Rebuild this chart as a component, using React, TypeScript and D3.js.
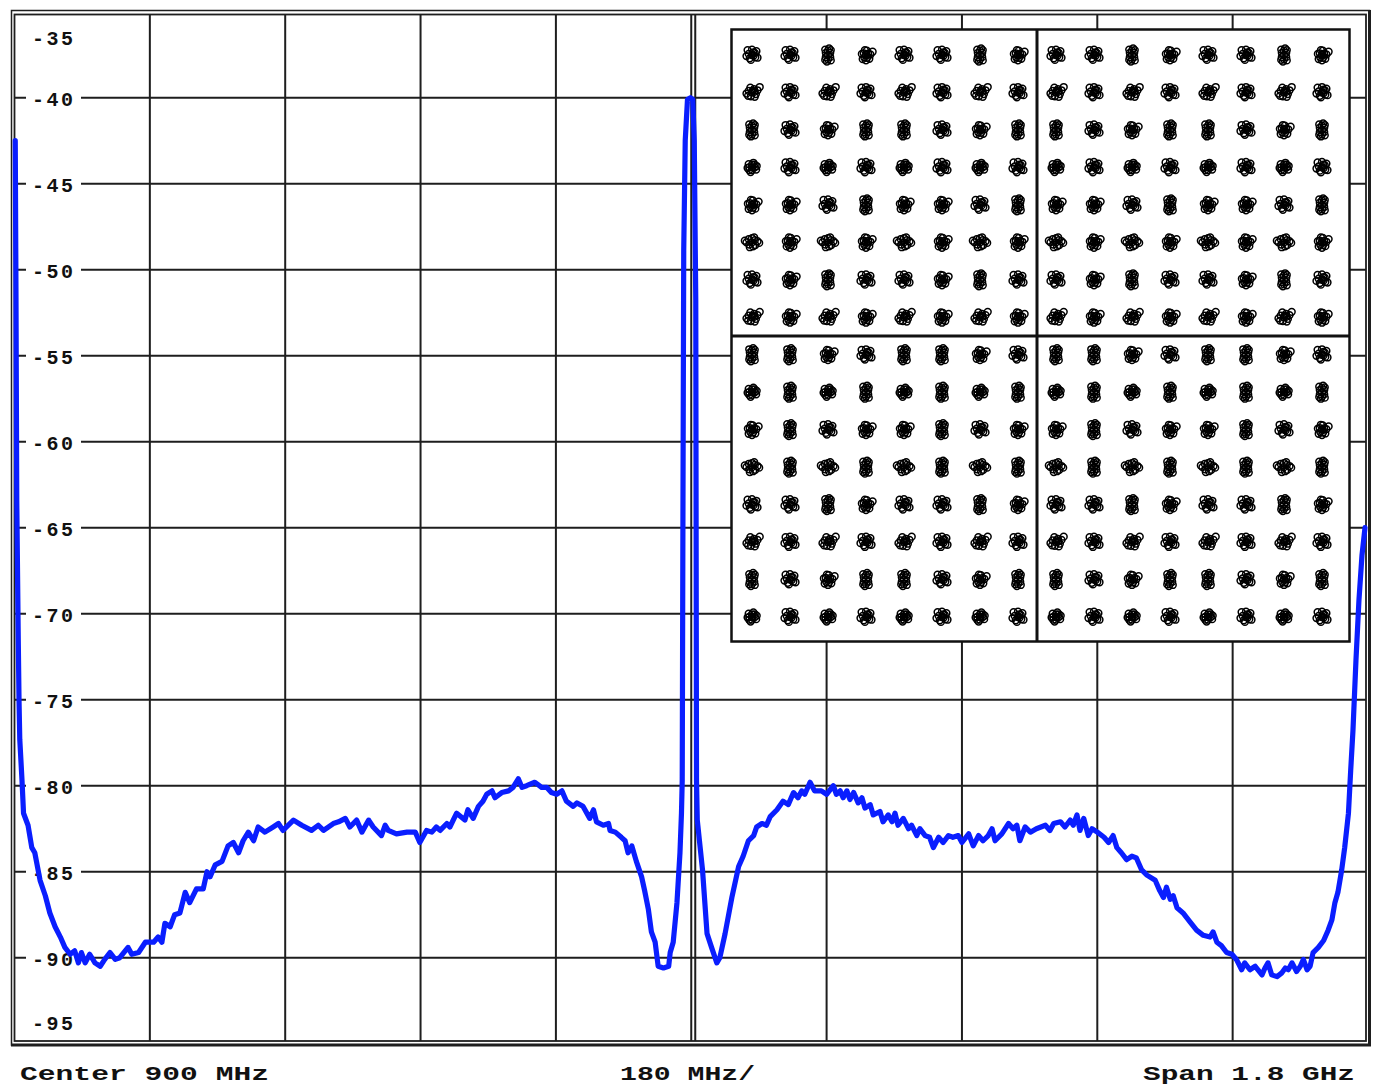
import * as d3 from 'd3'
import { FC } from 'react'

const WIDTH = 1373
const HEIGHT = 1088
const FONT = '"Liberation Mono", "Courier New", monospace'
const GRID = '#1e1e1e'
const TRACE = '#0a1eff'

// Spectrum trace (MHz, dBm)
const FREQ_MHZ = [
  1, 2, 3, 5, 6, 7, 10, 12, 18, 23, 27, 34, 41, 47, 54, 61, 67, 74, 80, 85, 89, 94, 100, 107, 114, 120,
  127, 134, 140, 151, 156, 165, 174, 185, 191, 196, 200, 207, 213, 220, 227, 233, 242, 251, 256, 260,
  267, 276, 284, 291, 298, 304, 311, 318, 324, 333, 344, 351, 357, 371, 382, 395, 404, 411, 424, 431,
  440, 446, 455, 462, 471, 477, 488, 493, 497, 508, 522, 533, 539, 548, 555, 561, 566, 575, 579, 588,
  599, 603, 610, 617, 623, 628, 635, 639, 648, 657, 663, 670, 675, 681, 692, 701, 708, 714, 721, 728,
  734, 743, 748, 756, 765, 770, 774, 783, 790, 792, 799, 807, 812, 816, 821, 827, 834, 838, 843, 847,
  852, 856, 863, 870, 872, 876, 881, 885, 887, 888, 889, 890, 892, 895, 899, 902, 904, 906, 907, 908,
  915, 921, 927, 934, 938, 945, 954, 963, 969, 976, 983, 987, 994, 1000, 1005, 1014, 1022, 1029, 1036,
  1042, 1047, 1051, 1058, 1064, 1073, 1080, 1089, 1093, 1098, 1102, 1107, 1111, 1116, 1122, 1127, 1131,
  1138, 1142, 1151, 1155, 1162, 1167, 1171, 1175, 1182, 1189, 1193, 1200, 1204, 1211, 1217, 1222, 1229,
  1235, 1242, 1248, 1255, 1260, 1269, 1275, 1282, 1288, 1295, 1300, 1304, 1313, 1322, 1328, 1333, 1337,
  1344, 1351, 1359, 1371, 1377, 1382, 1391, 1397, 1404, 1408, 1413, 1417, 1422, 1428, 1433, 1440, 1449,
  1455, 1461, 1466, 1472, 1479, 1486, 1492, 1499, 1506, 1517, 1523, 1528, 1532, 1537, 1541, 1546, 1554,
  1563, 1572, 1581, 1590, 1594, 1599, 1605, 1612, 1619, 1625, 1632, 1636, 1643, 1650, 1659, 1663, 1667,
  1672, 1679, 1685, 1690, 1694, 1699, 1705, 1710, 1714, 1719, 1723, 1727, 1734, 1741, 1747, 1752, 1756,
  1760, 1765, 1769, 1774, 1777, 1780, 1784, 1788, 1792, 1796,
]
const LEVEL_DBM = [
  -42.5, -51.8, -63.4, -71.5, -75.0, -77.3, -79.7, -81.6, -82.3, -83.6, -83.9, -85.5, -86.4, -87.4, -88.2,
  -88.8, -89.4, -89.8, -89.6, -90.3, -89.7, -90.3, -89.8, -90.3, -90.5, -90.1, -89.7, -90.1, -90.0, -89.4,
  -89.8, -89.7, -89.1, -89.1, -88.8, -89.1, -88.0, -88.2, -87.5, -87.4, -86.2, -86.8, -86.0, -86.0, -85.0,
  -85.3, -84.6, -84.4, -83.5, -83.3, -83.9, -83.2, -82.7, -83.2, -82.4, -82.7, -82.4, -82.2, -82.6, -82.0,
  -82.3, -82.6, -82.3, -82.6, -82.2, -82.1, -81.9, -82.4, -82.0, -82.7, -82.0, -82.4, -82.9, -82.3, -82.6,
  -82.8, -82.7, -82.7, -83.3, -82.6, -82.7, -82.4, -82.6, -82.2, -82.4, -81.6, -82.0, -81.4, -81.9, -81.2,
  -80.9, -80.5, -80.3, -80.7, -80.4, -80.3, -80.1, -79.6, -80.1, -80.0, -79.8, -80.1, -80.1, -80.4, -80.5,
  -80.3, -80.9, -81.2, -81.0, -81.2, -81.9, -81.4, -82.1, -82.3, -82.2, -82.6, -82.7, -83.0, -83.2, -83.9,
  -83.5, -84.4, -85.3, -86.1, -87.2, -88.5, -89.1, -90.5, -90.6, -90.5, -89.7, -89.1, -86.8, -83.9, -81.6,
  -79.7, -63.4, -48.9, -42.5, -40.1, -40.0, -40.1, -42.5, -51.8, -79.7, -82.0, -84.9, -88.6, -89.4, -90.3,
  -90.0, -88.6, -86.5, -84.7, -84.1, -83.2, -82.9, -82.4, -82.2, -82.3, -81.8, -81.4, -80.9, -81.1, -80.4,
  -80.7, -80.3, -80.5, -79.8, -80.3, -80.3, -80.5, -80.0, -80.5, -80.3, -80.7, -80.3, -80.8, -80.4, -81.0,
  -80.7, -81.3, -81.1, -81.7, -81.5, -82.1, -81.7, -82.1, -81.6, -82.3, -81.9, -82.5, -82.3, -82.9, -82.5,
  -82.9, -83.0, -83.6, -83.0, -83.3, -82.9, -83.0, -82.9, -83.3, -82.8, -83.5, -82.9, -83.2, -82.9, -82.5,
  -83.2, -82.8, -82.2, -82.5, -82.3, -83.2, -82.4, -82.7, -82.5, -82.3, -82.6, -82.2, -82.1, -82.4, -82.0,
  -82.3, -81.7, -82.6, -81.9, -82.9, -82.5, -82.7, -83.0, -83.3, -82.9, -83.6, -83.9, -84.3, -84.1, -84.2,
  -84.9, -85.2, -85.5, -86.1, -86.5, -85.9, -86.6, -86.4, -87.1, -87.4, -87.9, -88.4, -88.7, -88.8, -88.5,
  -89.1, -89.3, -89.7, -89.8, -90.1, -90.7, -90.3, -90.7, -90.5, -91.0, -90.6, -90.3, -91.0, -91.1, -90.9,
  -90.6, -90.7, -90.3, -90.8, -90.5, -90.1, -90.7, -90.5, -89.7, -89.4, -89.0, -88.4, -87.8, -86.8, -86.2,
  -84.9, -83.6, -81.6, -79.1, -76.8, -72.7, -69.2, -66.6, -65.0,
]

const Y_TICKS = [-35, -40, -45, -50, -55, -60, -65, -70, -75, -80, -85, -90, -95]
const X_DIVS = [0, 180, 360, 540, 720, 900, 1080, 1260, 1440, 1620, 1800]

// 256-QAM constellation levels (I and Q)
const QAM_LEVELS = [-15, -13, -11, -9, -7, -5, -3, -1, 1, 3, 5, 7, 9, 11, 13, 15]
// received-symbol scatter around each ideal point, in symbol units
const SCATTER = [
  [[0, 0], [0.1, 0], [-0.1, 0], [0, 0.1], [0, -0.1], [0.1, 0.1], [-0.1, -0.1], [0.15, -0.08], [-0.12, 0.12], [0.05, 0.17], [-0.05, -0.17], [0.17, 0.05], [-0.16, -0.02]],
  [[0, 0], [0.08, 0.05], [-0.08, 0.06], [0.04, -0.1], [-0.06, -0.09], [0.16, 0.02], [-0.15, 0.04], [0.24, 0.12], [0.03, 0.16], [-0.04, 0.18], [0.12, -0.14], [-0.12, -0.15], [0.0, -0.2]],
  [[0, 0], [0.1, 0.08], [-0.1, -0.08], [-0.2, 0], [0.2, 0.04], [0, 0.15], [0.04, -0.15], [-0.12, 0.12], [0.12, -0.1], [-0.08, -0.18], [0.08, 0.18], [-0.26, 0.06], [0.26, -0.02]],
  [[0, 0], [-0.16, 0.18], [0.05, 0.1], [0.12, -0.08], [-0.08, -0.12], [0.16, 0.14], [-0.04, -0.18], [0.1, 0.08], [-0.12, 0.04], [0.0, 0.2], [-0.2, -0.04], [0.2, -0.1], [0.06, -0.02]],
  [[0, 0], [0.07, 0.12], [-0.12, 0.06], [0.14, -0.06], [-0.04, -0.14], [0.2, 0.08], [-0.2, -0.04], [0.08, 0.02], [-0.06, 0.18], [0.1, -0.16], [-0.14, -0.12], [0.02, 0.06], [0.28, 0.2]],
  [[0, 0], [0, 0.16], [0, -0.16], [0.08, 0.08], [-0.08, -0.08], [0.08, -0.08], [-0.08, 0.08], [0.04, 0.24], [-0.04, -0.24], [0.1, 0.18], [-0.1, -0.18], [0.1, -0.2], [-0.1, 0.2]],
]
const SCATTER_GAIN = 1.45

const App: FC = () => {
  const x = d3.scaleLinear().domain([0, 1800]).range([14.5, 1368])
  const y = d3.scaleLinear().domain([-35, -95]).range([11.7, 1043.7])

  const line = d3
    .line<number>()
    .x((_, i) => x(FREQ_MHZ[i]))
    .y((d) => y(d))

  // inset
  const box = { x0: 731.5, y0: 29.5, x1: 1349.5, y1: 641.5 }
  const ci = d3.scaleLinear().domain([-15, 15]).range([752, 1322])
  const cq = d3.scaleLinear().domain([15, -15]).range([55, 617])

  const inner = { x0: 14.5, y0: 14.5, x1: 1366, y1: 1041 }

  return (
    <svg
      width={WIDTH}
      height={HEIGHT}
      style={{ position: 'absolute', left: 0, top: 0, background: '#fff' }}
    >
      {/* frame */}
      <rect x={11.5} y={10.5} width={1358} height={1034.5} fill="none" stroke={GRID} strokeWidth={1.5} />
      <line x1={11} x2={1371} y1={1045} y2={1045} stroke={GRID} strokeWidth={3} />
      <line x1={1369.5} x2={1369.5} y1={10} y2={1046} stroke={GRID} strokeWidth={3} />
      <rect
        x={inner.x0}
        y={inner.y0}
        width={inner.x1 - inner.x0}
        height={inner.y1 - inner.y0}
        fill="none"
        stroke={GRID}
        strokeWidth={1.8}
      />

      {/* grid */}
      {X_DIVS.slice(1, -1).map((f) => (
        <line key={f} x1={x(f)} x2={x(f)} y1={inner.y0} y2={inner.y1} stroke={GRID} strokeWidth={2} />
      ))}
      <line x1={x(900) + 4} x2={x(900) + 4} y1={inner.y0} y2={inner.y1} stroke={GRID} strokeWidth={2} />
      {Y_TICKS.slice(1, -1).map((t) => (
        <line key={t} x1={inner.x0} x2={inner.x1} y1={y(t)} y2={y(t)} stroke={GRID} strokeWidth={2} />
      ))}

      {/* y labels */}
      {Y_TICKS.map((t, i) => {
        const edge = i === 0 ? 25 : i === Y_TICKS.length - 1 ? -22 : 0
        const cy = y(t) + edge
        return (
          <g key={t}>
            {edge === 0 && <rect x={26} y={cy - 9} width={55} height={20} fill="#fff" />}
            <text
              x={32}
              y={cy + 8}
              fontFamily={FONT}
              fontWeight="bold"
              fontSize={20}
              textLength={41}
              lengthAdjust="spacing"
              fill="#111"
            >
              {t}
            </text>
          </g>
        )
      })}

      {/* constellation inset */}
      <rect
        x={box.x0}
        y={box.y0}
        width={box.x1 - box.x0}
        height={box.y1 - box.y0}
        fill="#fff"
        stroke="#111"
        strokeWidth={2.5}
      />
      <line x1={ci(0)} x2={ci(0)} y1={box.y0} y2={box.y1} stroke="#111" strokeWidth={3} />
      <line x1={box.x0} x2={box.x1} y1={cq(0)} y2={cq(0)} stroke="#111" strokeWidth={3} />
      {QAM_LEVELS.map((qv, r) =>
        QAM_LEVELS.map((iv, c) => {
          const pat = SCATTER[(r * 5 + c * 3 + ((r * c) % 4)) % SCATTER.length]
          return (
            <g key={`${r}-${c}`}>
              {pat.map(([dx, dy], k) => (
                <circle
                  key={k}
                  cx={ci(iv + dx * SCATTER_GAIN)}
                  cy={cq(qv + dy * SCATTER_GAIN)}
                  r={3.4}
                  fill="none"
                  stroke="#000"
                  strokeWidth={1.5}
                />
              ))}
            </g>
          )
        })
      )}

      {/* trace */}
      <path
        d={line(LEVEL_DBM) as string}
        fill="none"
        stroke={TRACE}
        strokeWidth={5.2}
        strokeLinejoin="round"
        strokeLinecap="round"
      />

      {/* footer */}
      <g fontFamily={FONT} fontWeight="bold" fontSize={20} fill="#111" style={{ whiteSpace: 'pre' }}>
        <text x={20} y={1080} textLength={249} lengthAdjust="spacingAndGlyphs">
          {'Center  900 MHz'}
        </text>
        <text x={620} y={1080} textLength={135} lengthAdjust="spacingAndGlyphs">
          {'180 MHz/'}
        </text>
        <text x={1143} y={1080} textLength={212} lengthAdjust="spacingAndGlyphs">
          {'Span  1.8 GHz'}
        </text>
      </g>
    </svg>
  )
}

export default App
